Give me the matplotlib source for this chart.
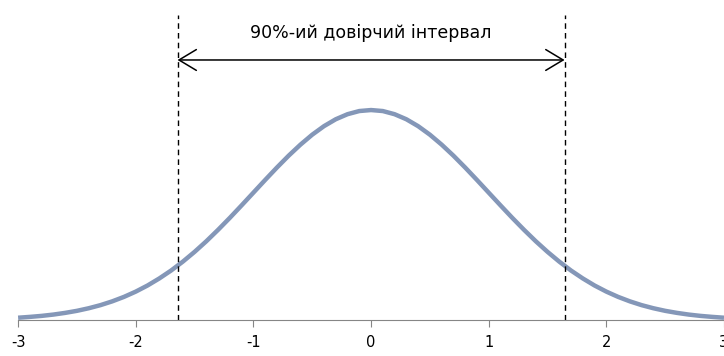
import numpy as np
import matplotlib.pyplot as plt

# curve heights, x from -3 to 3 in steps of 0.1
xs = np.round(np.arange(-30, 31) / 10.0, 1)
half = [0.3989, 0.3970, 0.3910, 0.3814, 0.3683, 0.3521, 0.3332, 0.3123, 0.2897,
        0.2661, 0.2420, 0.2179, 0.1942, 0.1714, 0.1497, 0.1295, 0.1109, 0.0940,
        0.0790, 0.0656, 0.0540, 0.0440, 0.0355, 0.0283, 0.0224, 0.0175, 0.0136,
        0.0104, 0.0079, 0.0060, 0.0044]
ys = half[::-1] + half[1:]

ci_low, ci_high = -1.645, 1.645
ci_label = "90%-ий довірчий інтервал"
ticks = [-3, -2, -1, 0, 1, 2, 3]

fig = plt.figure(figsize=(7.24, 3.56), dpi=100)
ax = fig.add_axes([0.025, 0.101, 0.975, 0.871])
ax.plot(xs, ys, color="#8497B8", lw=3.2, solid_capstyle="butt", clip_on=False)

ax.vlines([ci_low, ci_high], 0, 0.579, colors="black", linestyles=(0, (4, 3)), lw=1)
ax.annotate("", xy=(ci_low, 0.494), xytext=(ci_high, 0.494),
            arrowprops=dict(arrowstyle="<->,head_length=0.5,head_width=0.3",
                            color="black", lw=1.1,
                            mutation_scale=25, shrinkA=0, shrinkB=0))
ax.text(0, 0.545, ci_label, ha="center", va="center", fontsize=12.5)

ax.set_xlim(-3, 3)
ax.set_ylim(0, 0.589)
ax.set_xticks(ticks)
ax.set_xticklabels([str(t) for t in ticks], fontsize=10.5)
ax.set_yticks([])
for s in ["top", "right", "left"]:
    ax.spines[s].set_visible(False)
ax.spines["bottom"].set_color("#868686")
ax.tick_params(axis="x", direction="out", length=5, color="#868686", pad=6)

fig.savefig("out.png", dpi=100)
